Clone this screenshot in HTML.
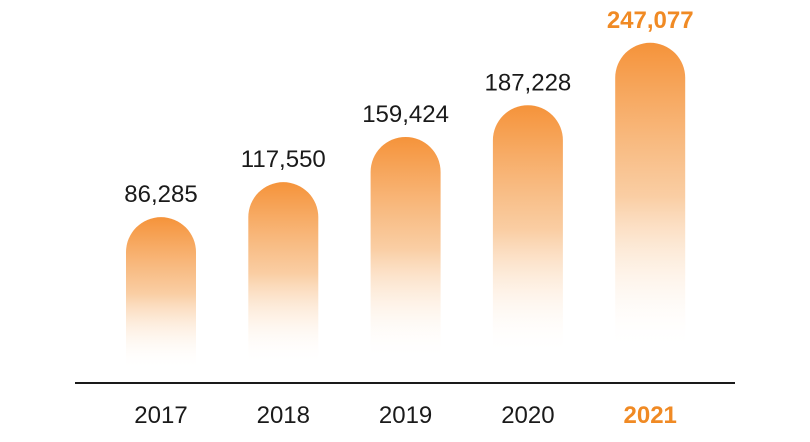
<!DOCTYPE html>
<html><head><meta charset="utf-8"><style>
body{margin:0;background:#fff;font-family:"Liberation Sans","Noto Sans CJK SC",sans-serif}
svg{display:block}
</style></head><body>
<svg id="chart" width="810" height="442" viewBox="0 0 810 442" xmlns="http://www.w3.org/2000/svg">
<defs>
<linearGradient id="g" x1="0" y1="0" x2="0" y2="1">
<stop offset="0" stop-color="#f5933a"/>
<stop offset="0.5" stop-color="#f9c899" stop-opacity="0.9"/>
<stop offset="1" stop-color="#ffffff" stop-opacity="0"/>
</linearGradient>
</defs>
<line x1="75" y1="383" x2="735" y2="383" stroke="#1a1a1a" stroke-width="2"/>
<g id="bars"></g>
</svg>
<script>
const categories = ["2017","2018","2019","2020","2021"];
const values = [86285,117550,159424,187228,247077];
const valueLabels = ["86,285","117,550","159,424","187,228","247,077"];
const ns = "http://www.w3.org/2000/svg";
const g = document.getElementById('bars');
function xCenter(i){return 161 + i*122.3;}
function barBottom(i){return 370 - i*5;}
function barHeight(v){return 70 + v*0.00096;}
categories.forEach((c,i)=>{
  const v = values[i];
  const cx = xCenter(i), bot = barBottom(i), top = bot - barHeight(v);
  const w = 70, r = 35;
  const p = document.createElementNS(ns,'path');
  p.setAttribute('d',`M${cx-w/2},${bot} L${cx-w/2},${top+r} A${r},${r} 0 0 1 ${cx+w/2},${top+r} L${cx+w/2},${bot} Z`);
  p.setAttribute('fill','url(#g)');
  
  
  g.appendChild(p);
  const last = i === categories.length-1;
  const t = document.createElementNS(ns,'text');
  t.setAttribute('x',cx); t.setAttribute('y',top-15);
  t.setAttribute('text-anchor','middle');
  t.setAttribute('font-size','24');
  t.setAttribute('fill', last ? '#f08a24' : '#1a1a1a');
  if(last) t.setAttribute('font-weight','bold');
  t.textContent = valueLabels[i];
  
  
  g.appendChild(t);
  const y = document.createElementNS(ns,'text');
  y.setAttribute('x',cx); y.setAttribute('y',423);
  y.setAttribute('text-anchor','middle');
  y.setAttribute('font-size','24');
  y.setAttribute('fill', last ? '#f08a24' : '#1a1a1a');
  if(last) y.setAttribute('font-weight','bold');
  y.textContent = c;
  
  
  g.appendChild(y);
});
</script>
</body></html>
